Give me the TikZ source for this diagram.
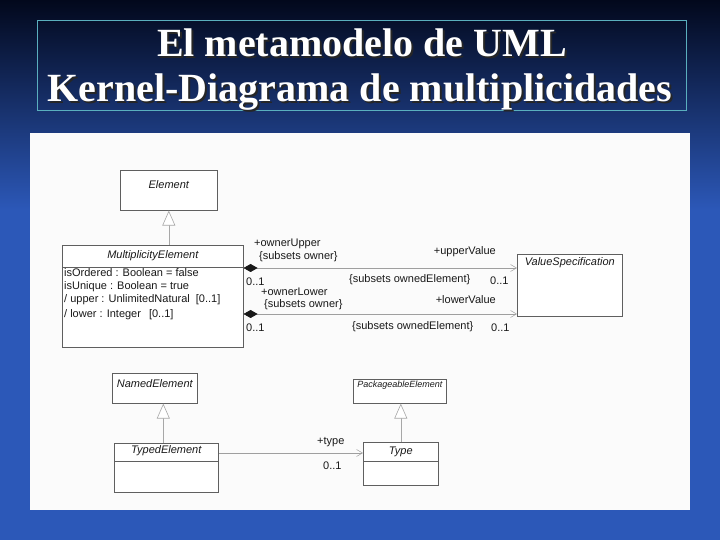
\documentclass[tikz,border=0pt]{standalone}
\usepackage{fontspec}
\setmainfont{Liberation Serif}
\newfontfamily\umlfont{Liberation Sans}
\usetikzlibrary{arrows.meta,positioning,calc}
\definecolor{night}{RGB}{2,8,28}
\definecolor{royal}{RGB}{44,88,184}
\definecolor{frameline}{RGB}{90,175,190}
\definecolor{scanline}{RGB}{95,95,95}
\definecolor{scanink}{RGB}{25,25,25}
\definecolor{paper}{RGB}{251,251,251}
\tikzset{
  title/.style={font=\fontsize{40}{44}\selectfont\bfseries,text=white,anchor=base,inner sep=0pt},
  title shadow/.style={title,text=black!85},
  umlbox/.style={draw=scanline,fill=white,line width=0.6pt,anchor=north west,inner sep=0pt},
  umlsep/.style={draw=scanline,line width=0.6pt},
  boxname/.style={font=\umlfont\fontsize{11}{12}\selectfont\itshape,text=scanink,inner sep=0pt},
  attr/.style={font=\umlfont\fontsize{11}{12}\selectfont,text=scanink,anchor=west,inner sep=0pt},
  lbl/.style={attr},
  assoc/.style={draw=scanline!60,line width=0.5pt,
    {Diamond[length=14pt,width=8pt,color=scanink]}-{Straight Barb[length=6pt,width=7pt]}},
  nav/.style={draw=scanline!60,line width=0.5pt,-{Straight Barb[length=6pt,width=7pt]}},
  gen/.style={draw=scanline!55,line width=0.6pt,-{Triangle[open,length=15pt,width=13pt,fill=white]}},
}
\begin{document}
\begin{tikzpicture}[x=1pt,y=1pt]
  \useasboundingbox (0,0) rectangle (720,540);
  % slide background
  \fill[royal] (0,0) rectangle (720,540);
  \shade[top color=night,bottom color=royal] (0,330) rectangle (720,540);
  \node[draw=frameline,line width=0.7pt,minimum width=649pt,minimum height=90pt,inner sep=0pt] (frame) at (361.5,475) {};
  \node[title shadow] at (364,481) {El metamodelo de UML};
  \node[title] (t1) at (362,483) {El metamodelo de UML};
  \node[title shadow] at (362,436) {Kernel-Diagrama de multiplicidades};
  \node[title] (t2) at (360,438) {Kernel-Diagrama de multiplicidades};

  % scanned page
  \node[fill=paper,minimum width=660pt,minimum height=377pt,inner sep=0pt] (page) at (360,218.5) {};

  % classes
  \node[umlbox,minimum width=97pt,minimum height=40pt] (elem) at (120,370) {};
  \node[boxname] at (elem.north |- 0,355) {Element};

  \node[umlbox,minimum width=181pt,minimum height=102pt] (mult) at (62,295) {};
  \draw[umlsep] (mult.west |- 0,273) -- (mult.east |- 0,273);
  \node[boxname] at (mult.north |- 0,284) {MultiplicityElement};
  \node[attr] at (64,267) {isOrdered : Boolean = false};
  \node[attr] at (64,253) {isUnique : Boolean = true};
  \node[attr] at (64,240) {/ upper : UnlimitedNatural\hspace{6pt}[0..1]};
  \node[attr] at (64,225) {/ lower : Integer\hspace{8pt}[0..1]};

  \node[umlbox,minimum width=105pt,minimum height=62pt] (vspec) at (517,286) {};
  \node[boxname] at (vspec.north |- 0,277) {ValueSpecification};

  \node[umlbox,minimum width=85pt,minimum height=30pt] (named) at (112,167) {};
  \node[boxname] at (named.north |- 0,156) {NamedElement};

  \node[umlbox,minimum width=104pt,minimum height=49pt] (typed) at (114,97) {};
  \draw[umlsep] (typed.west |- 0,79) -- (typed.east |- 0,79);
  \node[boxname] at (typed.north |- 0,89) {TypedElement};

  \node[umlbox,minimum width=93pt,minimum height=24pt] (pack) at (353,161) {};
  \node[boxname,font=\umlfont\fontsize{9}{10}\selectfont\itshape] at (pack.north |- 0,155) {PackageableElement};

  \node[umlbox,minimum width=75pt,minimum height=43pt] (type) at (363,98) {};
  \draw[umlsep] (type.west |- 0,79) -- (type.east |- 0,79);
  \node[boxname] at (type.north |- 0,88) {Type};

  % generalizations
  \coordinate (typedtop) at ($(typed.north)+(-3,0)$);
  \draw[gen] (mult.north -| elem.south) -- (elem.south);
  \draw[gen] (typedtop) -- (typedtop |- named.south);
  \draw[gen] (type.north) -- (type.north |- pack.south);

  % associations
  \coordinate (upper) at (0,272);
  \coordinate (lower) at (0,226);
  \coordinate (typeline) at (0,87);
  \draw[assoc] (mult.east |- upper) -- (vspec.west |- upper);
  \draw[assoc] (mult.east |- lower) -- (vspec.west |- lower);
  \draw[nav] (typed.east |- typeline) -- (type.west |- typeline);

  % association labels
  \node[lbl] at (254,296) {+ownerUpper};
  \node[lbl] at (259,283) {\{subsets owner\}};
  \node[lbl,anchor=east] at (496,288) {+upperValue};
  \node[lbl] at (246,258) {0..1};
  \node[lbl] at (349,260) {\{subsets ownedElement\}};
  \node[lbl] at (490,259) {0..1};
  \node[lbl] at (261,248) {+ownerLower};
  \node[lbl] at (264,235) {\{subsets owner\}};
  \node[lbl,anchor=east] at (496,240) {+lowerValue};
  \node[lbl] at (246,212) {0..1};
  \node[lbl] at (352,213) {\{subsets ownedElement\}};
  \node[lbl] at (491,212) {0..1};
  \node[lbl] at (317,98) {+type};
  \node[lbl] at (323,74) {0..1};
\end{tikzpicture}
\end{document}
